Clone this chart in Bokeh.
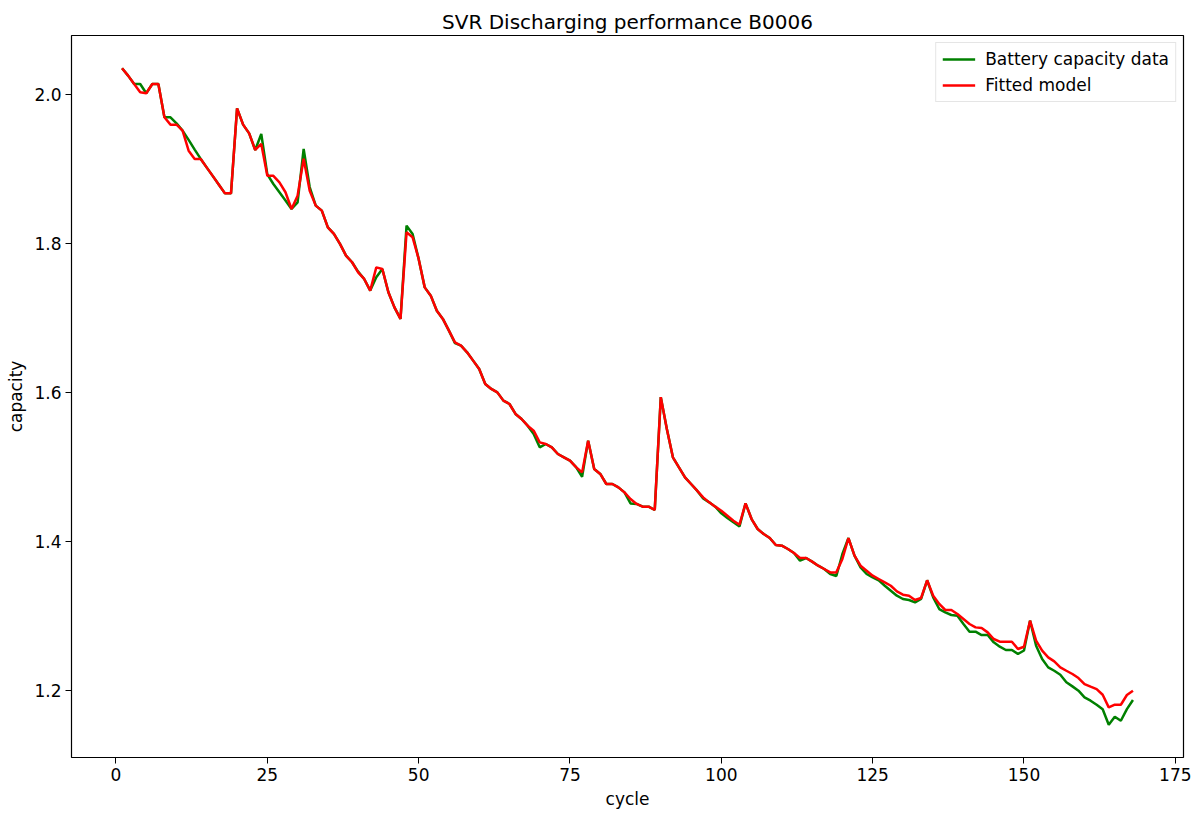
from bokeh.plotting import figure
from bokeh.models import Range1d, FixedTicker, NumeralTickFormatter, Legend, LegendItem, Title
from bokeh.embed import file_html
from bokeh.resources import INLINE

cycles = list(range(1, 169))

capacity = [
    2.0353, 2.0255, 2.0143, 2.0143, 2.0018, 2.0143, 2.0143, 1.9696, 1.9696, 1.9615,
    1.9517, 1.9392, 1.9262, 1.9137, 1.9020, 1.8906, 1.8790, 1.8675, 1.8675, 1.9816,
    1.9597, 1.9480, 1.9257, 1.9472, 1.8930, 1.8800, 1.8690, 1.8580, 1.8465, 1.8555,
    1.9270, 1.8760, 1.8510, 1.8443, 1.8219, 1.8130, 1.7996, 1.7839, 1.7750, 1.7625,
    1.7526, 1.7370, 1.7548, 1.7660, 1.7347, 1.7145, 1.6990, 1.8242, 1.8130, 1.7795,
    1.7413, 1.7302, 1.7100, 1.6990, 1.6832, 1.6665, 1.6631, 1.6541, 1.6430, 1.6318,
    1.6117, 1.6050, 1.6004, 1.5893, 1.5848, 1.5714, 1.5647, 1.5557, 1.5446, 1.5266,
    1.5311, 1.5266, 1.5177, 1.5132, 1.5087, 1.5000, 1.4872, 1.5356, 1.4976, 1.4909,
    1.4774, 1.4774, 1.4729, 1.4662, 1.4514, 1.4506, 1.4470, 1.4470, 1.4425, 1.5940,
    1.5512, 1.5132, 1.4997, 1.4863, 1.4774, 1.4685, 1.4580, 1.4528, 1.4470, 1.4380,
    1.4318, 1.4260, 1.4206, 1.4514, 1.4304, 1.4170, 1.4103, 1.4049, 1.3955, 1.3946,
    1.3902, 1.3848, 1.3745, 1.3781, 1.3732, 1.3678, 1.3633, 1.3566, 1.3540, 1.3835,
    1.4049, 1.3812, 1.3655, 1.3566, 1.3520, 1.3480, 1.3409, 1.3342, 1.3275, 1.3231,
    1.3217, 1.3185, 1.3231, 1.3482, 1.3253, 1.3096, 1.3051, 1.3016, 1.3005, 1.2895,
    1.2792, 1.2792, 1.2747, 1.2747, 1.2649, 1.2591, 1.2546, 1.2546, 1.2492, 1.2540,
    1.2940, 1.2604, 1.2425, 1.2313, 1.2268, 1.2215, 1.2114, 1.2058, 1.2000, 1.1910,
    1.1866, 1.1812, 1.1752, 1.1544, 1.1651, 1.1597, 1.1752, 1.1875,
]

fitted = [
    2.0353, 2.0255, 2.0143, 2.0031, 2.0018, 2.0143, 2.0143, 1.9696, 1.9597, 1.9597,
    1.9517, 1.9248, 1.9137, 1.9137, 1.9020, 1.8906, 1.8790, 1.8675, 1.8675, 1.9816,
    1.9597, 1.9480, 1.9257, 1.9338, 1.8910, 1.8910, 1.8823, 1.8690, 1.8465, 1.8644,
    1.9140, 1.8711, 1.8510, 1.8443, 1.8219, 1.8130, 1.7996, 1.7839, 1.7750, 1.7615,
    1.7526, 1.7370, 1.7682, 1.7660, 1.7347, 1.7145, 1.6990, 1.8152, 1.8085, 1.7795,
    1.7413, 1.7302, 1.7100, 1.6990, 1.6832, 1.6675, 1.6631, 1.6541, 1.6430, 1.6318,
    1.6117, 1.6050, 1.6004, 1.5893, 1.5848, 1.5714, 1.5647, 1.5557, 1.5490, 1.5333,
    1.5311, 1.5266, 1.5177, 1.5132, 1.5087, 1.5000, 1.4930, 1.5356, 1.4976, 1.4909,
    1.4774, 1.4774, 1.4729, 1.4662, 1.4573, 1.4506, 1.4470, 1.4470, 1.4425, 1.5940,
    1.5512, 1.5132, 1.4997, 1.4863, 1.4774, 1.4685, 1.4595, 1.4528, 1.4470, 1.4416,
    1.4349, 1.4282, 1.4228, 1.4514, 1.4304, 1.4170, 1.4103, 1.4049, 1.3955, 1.3946,
    1.3902, 1.3848, 1.3781, 1.3781, 1.3732, 1.3678, 1.3633, 1.3588, 1.3588, 1.3768,
    1.4049, 1.3812, 1.3678, 1.3611, 1.3544, 1.3499, 1.3454, 1.3409, 1.3333, 1.3289,
    1.3275, 1.3217, 1.3244, 1.3482, 1.3275, 1.3164, 1.3083, 1.3083, 1.3029, 1.2962,
    1.2895, 1.2850, 1.2841, 1.2783, 1.2694, 1.2658, 1.2658, 1.2658, 1.2560, 1.2590,
    1.2940, 1.2671, 1.2537, 1.2447, 1.2394, 1.2313, 1.2268, 1.2224, 1.2170, 1.2089,
    1.2054, 1.2022, 1.1946, 1.1776, 1.1812, 1.1812, 1.1942, 1.2000,
]

x_ticks = [0, 25, 50, 75, 100, 125, 150, 175]
y_ticks = [1.2, 1.4, 1.6, 1.8, 2.0]

FONT = "DejaVu Sans"

xmin, xmax = min(cycles), max(cycles)
ymin = min(min(capacity), min(fitted))
ymax = max(max(capacity), max(fitted))
xpad = (xmax - xmin) * 0.05
ypad = (ymax - ymin) * 0.05

p = figure(width=1203, height=814, output_backend="svg", toolbar_location=None,
           x_range=Range1d(xmin - xpad, xmax + xpad),
           y_range=Range1d(ymin - ypad, ymax + ypad),
           min_border_left=71, min_border_right=20, min_border_top=35, min_border_bottom=57)

p.title = Title(text="SVR Discharging performance B0006", align="center",
                text_font=FONT, text_font_size="20px", text_font_style="normal",
                text_color="black", standoff=4)

p.xgrid.visible = False
p.ygrid.visible = False
p.outline_line_color = "black"
p.outline_line_width = 1.2
p.outline_line_alpha = 1.0

for ax in (p.xaxis[0], p.yaxis[0]):
    ax.axis_line_color = None
    ax.major_tick_in = 0
    ax.major_tick_out = 6
    ax.major_tick_line_color = "black"
    ax.minor_tick_line_color = None
    ax.major_label_text_font = FONT
    ax.major_label_text_font_size = "17px"
    ax.major_label_text_color = "black"
    ax.axis_label_text_font = FONT
    ax.axis_label_text_font_size = "17px"
    ax.axis_label_text_font_style = "normal"
    ax.axis_label_text_color = "black"
    ax.major_label_standoff = 4
    ax.axis_label_standoff = 5

p.xaxis.ticker = FixedTicker(ticks=x_ticks)
p.yaxis.ticker = FixedTicker(ticks=y_ticks)
p.yaxis.formatter = NumeralTickFormatter(format="0.0")
p.xaxis.axis_label = "cycle"
p.yaxis.axis_label = "capacity"

r1 = p.line(cycles, capacity, line_color="#008000", line_width=2.5)
r2 = p.line(cycles, fitted, line_color="#ff0000", line_width=2.5)

legend = Legend(items=[LegendItem(label="Battery capacity data", renderers=[r1]),
                       LegendItem(label="Fitted model", renderers=[r2])],
                location="top_right", margin=7, padding=6, spacing=6,
                glyph_width=33, glyph_height=20, label_height=20, label_standoff=10,
                label_text_font=FONT, label_text_font_size="17px",
                label_text_color="black",
                border_line_color="#cccccc", border_line_width=1,
                background_fill_alpha=0.8)
p.add_layout(legend)

open("out.html", "w").write(file_html(p, INLINE))
